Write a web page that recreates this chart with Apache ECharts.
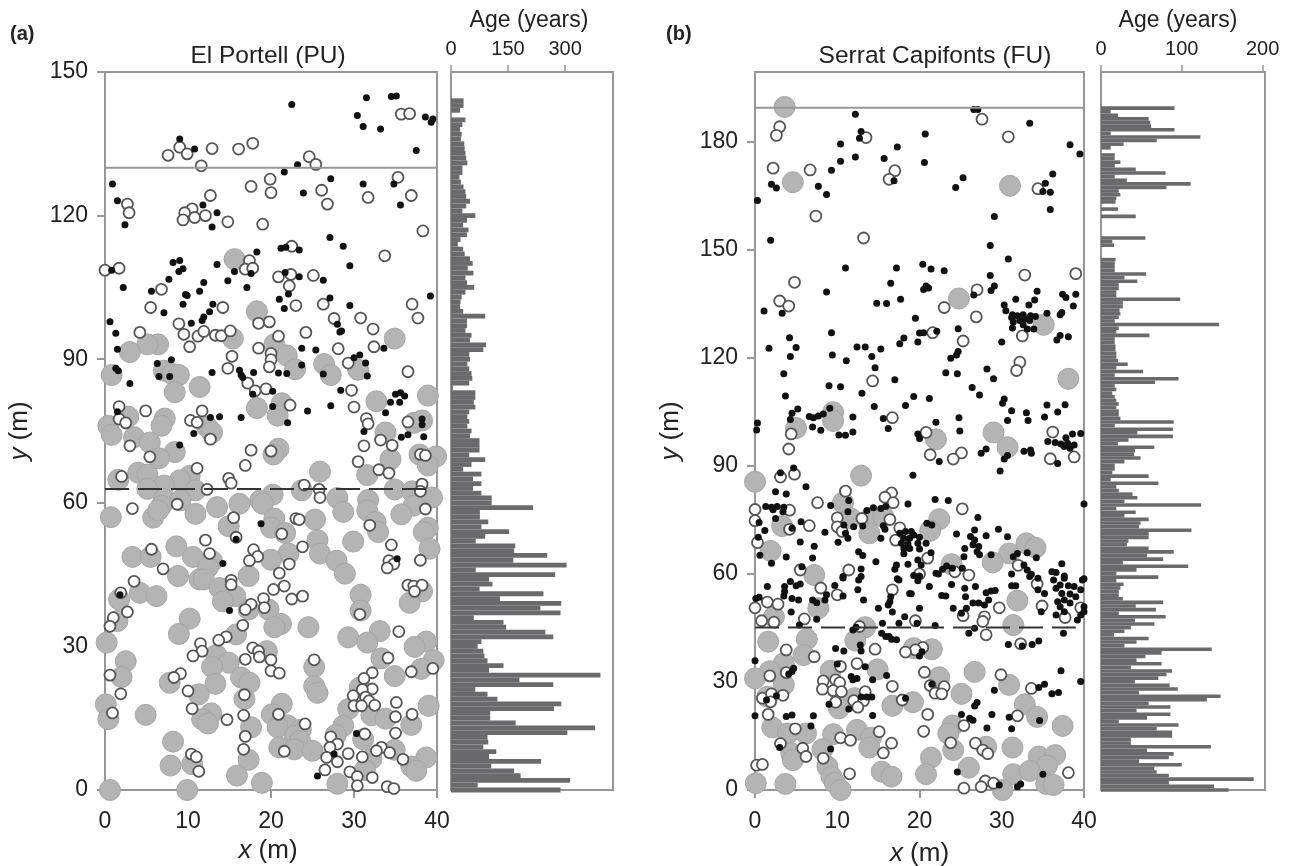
<!DOCTYPE html>
<html><head><meta charset="utf-8">
<script src="https://cdn.jsdelivr.net/npm/echarts@6/dist/echarts.min.js"></script>
<style>html,body{margin:0;padding:0;background:#fff}#c{width:1293px;height:866px}</style></head>
<body><div id="c"></div>
<script>
const bigA=[[15.6,110.9],[18.3,100],[34.9,94.3],[20.4,93.1],[15.4,94.3],[6.4,93.1],[5.1,93.1],[3,91.5],[21.9,90.8],[26.4,89],[22.9,87.9],[27.2,86.7],[30.5,87.8],[0.8,86.7],[7.1,87.6],[8.1,86.9],[8.9,86.7],[11.4,84.2],[8.4,83.1],[38.9,82.4],[32.7,81.2],[21.3,80.8],[18.3,79.8],[20.8,78.2],[7.2,77.6],[6.8,76.1],[2.8,78],[0.4,76.1],[0.8,74.2],[12.3,75.9],[12.9,74.7],[3.5,73.7],[5.4,72.6],[33.8,74.7],[37.2,76.7],[38.2,77.2],[8.4,70.6],[6.5,69.3],[20.9,71.3],[20.3,70.1],[34.4,69.1],[37.9,70.1],[39.9,69.7],[38.9,67.8],[25.9,66.5],[31.6,65.8],[4,66.3],[5.1,65.9],[1.6,64.8],[10.2,65.6],[9,64.7],[7.1,63.6],[5.1,62.9],[10.9,62.6],[23.7,62.6],[20.2,61.7],[34.9,62.8],[37,62.4],[39.4,61.1],[37.2,59.4],[7.1,60.8],[9.1,60.5],[6.8,59.4],[18.7,60.5],[16.2,59.8],[19,59.8],[28,61],[31.7,60.6],[13.5,59.1],[31.6,58.4],[28.7,58.1],[35.7,57.6],[0.7,57],[10.9,57.7],[5.8,56.9],[6.4,58.4],[20.4,56.7],[25.3,56.5],[14.9,55.1],[32.6,56],[20,54.8],[21.7,53.7],[32.9,53.9],[38.9,54.8],[38.4,53.9],[25.6,52.2],[29.9,51.9],[8.6,50.9],[39.1,50.4],[3.3,48.7],[5.5,48.7],[10.6,48.7],[25.9,49.4],[27.9,47.9],[22.1,49.4],[20,48.1],[12.9,47.8],[12.4,46.5],[28.9,45.2],[8.8,44.7],[17.3,44.7],[11.4,44],[11.9,44],[13.8,42.2],[15.7,40.5],[4.2,41.2],[6.2,40.5],[1.7,39.8],[30.8,40.8],[38.2,41.5],[36.7,39.1],[14.2,39.4],[17.3,37.7],[19.7,37.7],[30.8,37.5],[10.2,35.8],[21.2,34.7],[20.4,34],[24.5,34],[8.9,32.6],[1.5,35.3],[15.8,32.5],[33.1,33.2],[29.3,31.9],[31.6,30.8],[38.7,31],[37.3,29.9],[0.2,30.8],[19.5,29],[13.4,28.2],[14.9,26.6],[12.9,25.7],[33.3,27.5],[2.5,26.9],[39.6,27.1],[38.1,25.3],[25.2,25.7],[2,23.6],[34.9,23.8],[16.4,23.5],[17.4,22.4],[13.3,22.2],[7.8,22.4],[25.2,21.7],[25.6,20.3],[30.7,21.4],[11.3,20],[16.8,19],[0.1,17.9],[21.3,18],[39,17.6],[29.3,16.9],[12.8,16],[4.9,15.7],[11.7,14.8],[12.4,13.9],[20.1,15.8],[0.4,14.8],[32.1,15.6],[33.8,14.9],[36.9,13.6],[22,13.5],[17.6,13.1],[28.7,13.4],[20.8,13.1],[23.6,12.6],[22.9,11.3],[27.8,11.5],[8.2,10.1],[31.1,10.6],[23.5,10.3],[21,8.9],[22.8,8.5],[25,8.2],[34.9,8.4],[17.3,6.3],[32.1,6.5],[38.7,6.8],[10.5,5.4],[7.9,5.1],[36.9,4.9],[37.5,4],[31.3,4.2],[15.9,3],[18.9,1.5],[28,1.3],[0.6,0],[9.9,0]];
const openA=[[35.7,141.2],[36.7,141.3],[17.8,135.1],[16.1,133.9],[12.9,134],[9,134.3],[9.9,132.9],[7.6,132.6],[11.6,130.4],[24.6,132.3],[25.4,130.7],[35.3,128],[19.9,127.6],[17.6,126.1],[20,124.8],[26.1,125.3],[31.7,123.8],[36.9,124.2],[26.8,122.4],[12.7,124.2],[2.7,122.4],[2.9,120.6],[10.5,121.4],[9.6,120.6],[9.4,119.1],[10.8,119.6],[12.1,120],[14.8,118.7],[19,118.2],[38.3,116.8],[22.5,113.6],[33.7,111.6],[17.4,110.6],[16.9,108.8],[17.8,109],[0,108.6],[1.7,109],[20.9,107.2],[22.4,107.7],[25.1,107.5],[22.2,105.3],[6.8,104.6],[5.5,100.8],[14.2,100.8],[23,101.2],[26.3,101.5],[37,101.5],[37.7,98.6],[27.6,98.5],[30.8,98.6],[18.5,97.5],[19.8,97.8],[8.9,97.4],[32.3,96.3],[24.2,95.6],[4.2,95.6],[9.5,95.2],[11.2,94.8],[11.9,95.8],[13.3,95],[14,94.9],[15.1,95.9],[20.9,94.8],[10.2,92.6],[18.5,92.3],[28.1,92.2],[32.4,92.6],[20,91.2],[15.3,90.6],[20,89.9],[19.8,88.4],[29.3,89.2],[14.8,88.1],[36.5,87.4],[17.2,85],[18.1,83.4],[19.4,83.8],[29.7,83.5],[22.3,80.4],[1.7,80.1],[4.9,79.2],[11.7,79.2],[30,80],[1.7,77.5],[2.5,76.7],[10.3,77.2],[11.1,76.8],[31.5,77.6],[31.7,76.5],[36.5,76.9],[12.7,73.3],[33.2,73.1],[34.6,72],[31.2,71.9],[3,71.9],[17.6,71],[20,70.8],[5.4,69.6],[38,70.1],[38.6,69.9],[30.5,68.6],[16.9,67.8],[11.1,67.2],[33,66.9],[34.2,66.2],[2,65.5],[14.9,65.1],[15.2,64.1],[24,63.7],[38.2,63.9],[12.3,62.8],[25.8,62.8],[38,62.4],[25.9,61.1],[8.7,59.7],[3.3,58.8],[38.6,58.7],[15.5,56.9],[23,56.7],[23.4,56.5],[31.9,55.3],[21.3,53.5],[15.8,52.8],[12.1,52.2],[34.5,51.2],[23.8,50.8],[5.6,50.3],[17.9,50.2],[12.6,49.4],[18.4,48.8],[34.2,47.9],[38,48],[17.4,47.9],[22.2,47.2],[34.8,47.2],[34,46.4],[7,46.2],[21,45.3],[3.5,43.6],[15.2,43.8],[15.2,42.9],[21.6,42.6],[20.3,41.9],[23.8,40.5],[22.5,39.9],[19.1,40],[1.9,41.2],[36.5,42.8],[37.2,42.6],[38.2,42.8],[37.3,41.5],[17.6,38.8],[16.9,37.7],[19.2,38.1],[2.7,37.2],[1,36],[0.6,34.2],[30.7,36.7],[16.6,34.4],[14.6,32],[13.7,31.3],[35.4,33.1],[11.5,30.6],[17.8,29.7],[18.5,29],[11.7,29],[10.6,28],[18.6,27.8],[34.1,27.6],[16.9,27.3],[20,27.2],[25.2,27.2],[20,24.9],[21,24.4],[36.9,24.7],[39.5,25.4],[0.6,24],[9.1,24.3],[8.3,23.5],[32.2,24.5],[31.2,23.3],[32.2,21.1],[31,21],[10,20.7],[1.9,20.1],[16.8,19.9],[29.9,19.7],[31.4,19.4],[31.8,18.6],[35.1,18.3],[30,17.6],[30.9,17.6],[32.5,17.7],[10.5,17],[0.9,16.1],[16.7,15.6],[20.9,15.8],[35,15.3],[37,15.8],[14.7,14.7],[24.1,13.8],[35,11.9],[31.3,11.7],[16.9,11.2],[27.2,11.1],[28,9.6],[27.1,8.9],[33.3,8.9],[32.7,8.2],[34.3,7.8],[16.7,8.5],[21.6,8.1],[29.3,7.6],[10.4,7.5],[11,6.9],[31,6.9],[26.7,6.8],[35.9,6.4],[28,5.9],[26.5,4.2],[11.3,3.9],[29.5,3.8],[30.4,2.8],[32.2,2.6],[30.4,0.9],[34,0.7],[34.8,0.3]];
const blackA=[[31.5,144.6],[34.5,144.9],[35.1,145],[22.5,143.2],[30.4,140.9],[31.1,138.6],[33.2,138.1],[38.6,140.6],[39.3,139.5],[39.5,140.2],[9,136],[10.8,133.9],[37.5,133.6],[23.2,130.6],[21.6,129.1],[27.2,127.7],[0.9,126.6],[31.1,126.6],[34.8,126.6],[23.9,124.7],[1.5,123.1],[35.6,122.2],[11.8,122.2],[13.5,120.6],[2.4,118.1],[12.9,117.6],[27.1,115.4],[28.7,113.6],[21.2,113.2],[21.8,113.4],[23.4,112.8],[18.3,112.4],[8.2,110.2],[9,110.6],[13.5,109.8],[29.5,109.5],[9.4,108.9],[8.9,108.3],[0.8,108.6],[15.6,108.3],[17.6,107.9],[21.7,108.1],[23.4,107.2],[7.7,106.7],[26.3,106.5],[11.9,106],[14.8,106.4],[2.2,105],[17.1,105],[5.6,104.2],[11.4,104.2],[9.7,103.5],[9.9,103.3],[22.1,103.6],[39.2,103.2],[27.1,102.8],[21,102.5],[9.4,101.5],[13,101.5],[12.6,99.9],[7.1,99.7],[11.9,98.8],[11.7,98.1],[21.6,100.6],[29.5,101.2],[0.6,97.8],[10.4,97.5],[28,97.3],[28.5,95.9],[28.3,95.7],[1.3,95.4],[1.5,92.1],[23.7,92.3],[25.4,91.9],[33.6,92.3],[30.7,90.9],[30,90.3],[8,89.9],[6.3,89.1],[23.7,88.8],[31.4,89.2],[1.3,88.1],[1.6,87.6],[12.9,87.2],[16.2,87.7],[17.9,87.2],[20.9,87.1],[21.9,87],[26.3,86.9],[16.4,86.7],[16.6,86.2],[31.6,86.5],[6.5,86.4],[7.8,86.4],[3,84.9],[28.4,83.5],[17.8,82.7],[20.2,83.3],[35,82.7],[35.6,83],[36.1,82.3],[34.4,81],[35.5,81],[20.2,80.1],[24.4,79.2],[27.2,80.3],[1.5,79],[33.8,78.8],[12.7,77.8],[13.8,78],[16.4,77.8],[38.2,77.5],[38.2,76.3],[22,76.7],[31.2,74.9],[10.7,74.5],[38.4,73.8],[36.5,74.2],[35.7,73.7],[9,72.1],[18.8,55.6],[15.8,52.4],[14.2,47.3],[35.2,48.3],[15,37.5],[1.8,40.8],[30.3,11.8],[25.6,2.9],[27.6,7.5]];
const bigB=[[3.6,189.7],[4.6,168.8],[31,167.8],[24.8,136.5],[35.1,129.2],[38.1,114.2],[9.5,104.9],[9.5,102.5],[5,100.5],[22,97.4],[29,99.3],[30.7,95.2],[12.9,87.3],[0,85.6],[10.7,79.8],[11.6,75.5],[14.1,75.6],[15.6,75.9],[22.4,75.2],[21.3,72],[13.9,71.3],[3.3,73.3],[1.9,66.4],[30.9,65.7],[33,68.5],[34.1,67.3],[28.9,63.2],[23.9,62.7],[7.2,59.7],[31.9,52.6],[7.7,50.5],[2.3,48.1],[13.4,45.2],[31.4,45.8],[1.6,41.2],[6.3,41.9],[12.2,41.5],[19.3,39.4],[21.5,39.1],[5.9,37.5],[3.5,35.2],[1.8,33],[0,31],[9.2,33.1],[14.9,33.5],[26.7,32.8],[22.4,31.3],[30.9,29.2],[3.5,29.2],[12.1,25.5],[25.1,26.7],[1.5,25.9],[19.2,24.4],[16.7,23.4],[32.8,23.8],[10.2,22.7],[34.3,20.3],[24,17.9],[23.5,15.7],[37.4,17.8],[2.1,17.4],[4,15.7],[6.2,15.7],[9.5,15.5],[12.4,16.7],[14.1,14.5],[13.9,11.8],[24.1,11.1],[8.2,11.3],[4.4,10.2],[28.1,12],[31.3,11.8],[4.6,8.3],[21.4,9],[34.5,9.3],[36.5,9.7],[8.8,6.5],[26,6.2],[35.5,6.8],[15.4,5.1],[16.6,3.7],[20.8,4.4],[31.4,4.4],[33.4,5.3],[9.3,3.7],[9.7,2],[10.4,0],[0.1,1.9],[3.7,1.7],[30.1,0],[35.4,1.7],[36.3,1.4]];
const openB=[[27.6,186.3],[3,184.2],[2.6,181.8],[13.5,181.2],[30.8,181.4],[2.2,172.7],[6.7,172.2],[17,172],[16.3,169.6],[34.4,167],[7.4,159.4],[13.2,153.3],[39,143.4],[32.8,143],[4.8,141],[27,138.9],[3,135.8],[4.1,134.4],[23,134],[26.9,131.4],[21.6,127],[25.3,124.7],[32.5,126.1],[32.2,118.8],[31.8,116.5],[14.3,113.6],[16.7,103.4],[20.8,99.3],[36.2,99.4],[4.4,98.9],[4.1,94.7],[21.3,93.1],[25.1,93.6],[24.1,91.9],[35.9,92],[38.8,92.5],[4.8,87.7],[3.1,86.9],[11,83],[16.6,82.5],[15.8,81.3],[16.8,79.8],[7.6,79.8],[0,77.9],[4.2,77.7],[25.2,78.1],[10,75.6],[13,75.4],[16.4,75.1],[0,74.8],[6.6,73.4],[10,73.1],[4.2,72.4],[17.6,72.8],[10.6,71.8],[17.1,69.4],[0.3,68.7],[21,64.4],[32,62.4],[11.4,61.1],[24.3,60.6],[26,59.7],[20,60],[5.5,61.1],[16.7,55.6],[8,56.1],[10,54.2],[34.3,57.2],[1.5,52.2],[2.8,51.6],[0,50.6],[34.9,51.1],[29.7,50.6],[39.6,50.6],[25.3,48.4],[27.9,48.1],[27.7,46.8],[37.7,47.9],[6,47.5],[0.8,47],[2.3,46.6],[19.5,47],[12.7,45.4],[28.1,43.1],[32.3,40.6],[20.4,39.6],[19.5,38.9],[18.3,38.3],[14.6,39.1],[3.8,38.9],[7.2,37],[12.4,35.1],[10.4,34.3],[3.8,32.6],[20.6,32.7],[29.9,32],[1.8,31.7],[8.3,30.3],[9.8,30.6],[10.3,29.8],[16.7,28.8],[21.3,29],[23,28.7],[33.6,28.2],[8.2,28],[9.5,27.6],[10.5,27.3],[13.4,27.3],[3.4,26.3],[0.9,25.5],[2,26.7],[1.9,24.5],[21.9,26.9],[22.7,26.7],[17.9,25],[9.8,24.4],[12,24.8],[13.2,24.8],[12.5,23],[21,21],[31.9,20.6],[1.6,21],[25.4,17.9],[4.9,17],[15.1,16.2],[20.5,16.3],[10.4,14.5],[11.6,13.8],[16.6,13],[23.8,13.1],[26.8,13],[3.1,12.9],[5.8,11.6],[27.7,11.1],[28.3,10.1],[15.6,10.3],[6.2,9.3],[8.3,8.8],[38.1,4.8],[11.5,4.5],[0.2,6.9],[0.9,7.1],[28,2.5],[29,1.9],[27.5,0.9],[25.4,0.5]];
const blackB=[[26.6,189],[27.1,189],[12.2,187.7],[33.4,185.2],[12.9,182.9],[12.7,181],[20.7,182.2],[10.4,179.4],[17.3,178.6],[38.3,179.2],[39.5,176.6],[12.2,175.8],[10.4,174.6],[15.7,175.4],[20.6,174.3],[9.3,172.1],[36.2,171.1],[25.3,170],[16.9,169.2],[2,168.2],[2.6,167.2],[7.7,167.7],[24.4,167.3],[35.3,168.5],[35,166.2],[35.9,166],[8.7,165.4],[0.3,163.7],[35.9,161.2],[29.1,159.3],[1.9,152.7],[28.6,151.2],[30.8,147.5],[11,145],[17.2,145],[20.4,146],[21.4,144.7],[23,144.2],[28.6,142.9],[16.5,140.7],[20.8,140],[20.5,139],[21.1,139.4],[8.7,138.3],[29.1,140],[28.7,138.7],[34.3,138.5],[26.6,137.5],[37.4,137.7],[39,137.7],[37.8,136.8],[17.7,136.3],[31.7,136.3],[34,136.1],[1.1,133],[3.3,132.4],[14.8,135.2],[16,135.1],[30.3,134.7],[30.5,133.1],[33.3,134.7],[38.7,134.4],[37.3,132.6],[37.1,132],[35.5,132.4],[19.5,131],[31.3,132],[31.9,131.7],[32.6,132],[33.5,131.7],[34.1,131.5],[31.2,131.2],[31.4,130],[32.2,130.4],[33.4,130.4],[31.3,128.3],[32.6,129.2],[33.1,128],[33.9,128],[32.9,130.9],[9.3,127],[4.2,125.6],[18.1,125.5],[20,126.9],[20.5,127],[22.1,127.4],[24.7,128.1],[17.6,123.9],[19.8,124.4],[30,124.4],[38.1,125.9],[37.1,126.2],[36.7,125],[1.7,122.7],[5,122.9],[12.4,123],[13.4,123],[15.3,122.5],[24.7,121.8],[24.5,120.8],[23.8,119.9],[4.3,120.4],[9.4,120.8],[14.2,120.4],[11.1,119.2],[14.6,117.3],[3.5,115.6],[23.2,115.9],[24.6,115.6],[28.2,116.9],[29,114.2],[17,113.9],[9,112.3],[10.4,112],[26.4,111.8],[27.3,109.7],[13,110.2],[3.7,109.4],[19.3,109.3],[21.2,108.7],[30.3,108.6],[30.1,107.4],[18.3,106.8],[14.5,106.5],[35.5,106.9],[37.7,107],[5.2,105.8],[4.5,104.6],[9.1,106],[31.2,105.3],[33,104.8],[36.8,105],[4.3,102.9],[6.6,103.7],[7.1,103.4],[7.7,103.9],[8.3,104.4],[11.9,103.6],[15.6,103.2],[24.8,103.4],[35.2,103.6],[30.7,102.6],[33.2,102.6],[22,102.1],[0.3,101.9],[0.2,100],[7,100.8],[8,99.9],[16.2,100.4],[24.9,99.7],[10.2,98.6],[11,98.5],[11.9,99.4],[19.8,98.9],[20,97.6],[38.6,98.9],[39.6,99],[37.8,97.8],[35.6,96.8],[36.5,96.5],[37.2,96.1],[38,96.3],[38.8,95.8],[37.6,95.4],[38.3,94.9],[28.1,94.7],[27.5,93.5],[30.7,92.9],[30.3,91.9],[32.7,94.1],[33.5,94.4],[33.6,93.5],[22.4,91.2],[36.8,90.7],[4.7,89.4],[29.8,88.6],[3.1,88.1],[19.2,87.4],[6.2,84.2],[2.5,82.8],[3.8,82.2],[11.4,80.4],[21.9,80.7],[23.5,80.4],[18.6,79.4],[40,79.4],[9.2,79],[1.3,78.7],[2,78.5],[2.7,78.7],[3.5,78.5],[2.2,77.8],[3.4,77.3],[14.4,78.4],[15.3,78.2],[15.9,78.7],[11.3,77.3],[13.6,77.6],[27.1,75.7],[2.5,75.4],[5.6,74.5],[0.5,74.3],[10.8,73.6],[12,73.1],[13.1,73.3],[15.6,73.4],[15.8,72.4],[20.9,74.1],[21.5,73.6],[29.6,72.4],[1.2,72.1],[8.5,71.6],[4.5,72.7],[26.7,72.2],[24.5,71.1],[28.1,70.6],[11,71.3],[11.3,69.9],[15.3,69.9],[30.7,70.3],[26.2,70.4],[26.7,69.4],[0.4,70.2],[17.6,71.3],[18.3,71.8],[19,71.8],[19.3,70.8],[18.1,69.9],[18.8,69.9],[20,70.2],[17.8,68.5],[18.6,68.3],[19.8,68.5],[20.8,68.5],[18.1,67.1],[18.8,67.1],[20,66.9],[18.1,65.6],[21.4,65.9],[5.5,68.9],[10.1,68.8],[7.2,67.7],[26.5,68.1],[27.2,67.6],[25.5,67.1],[27,66.2],[27.3,65.3],[12.6,66.2],[13.1,65.1],[0.6,65.2],[3.8,64.7],[7,64.4],[25.4,64.8],[28.7,65.3],[33.1,65.9],[34.2,64.5],[31.9,65.7],[31.4,64.8],[19.8,63.9],[20.2,62.5],[2,63],[14.7,63.4],[18.6,62.7],[17.2,62.5],[17,61.3],[37.3,62.8],[32.7,62.5],[33.1,61.1],[23.3,62.2],[24,61.6],[22.8,61.3],[25.2,61.6],[22,60.2],[12.9,61.4],[5.7,62],[31.2,60],[36.1,60.6],[36.6,60.4],[33.6,59.9],[34.4,58.8],[37.6,59.4],[12.9,59.3],[10.7,59.3],[19.3,59.6],[40,58.7],[17.3,58.7],[1.5,56.5],[4.3,57.9],[5.5,57.2],[3.6,56.5],[5,56.7],[3.6,55.1],[3.5,53.9],[0.1,53.2],[0.5,53.5],[4.5,53.2],[5.3,52.8],[7,52.8],[8.7,54.2],[8.5,52.8],[7.5,52],[9.7,56.8],[10.7,53.9],[10.7,58.9],[12.5,55.6],[13.2,52.8],[12.6,58.3],[17.5,58.3],[20,59.4],[19.8,58.1],[18.8,54.6],[19,54.5],[21.2,56.5],[22.3,60],[23.9,57.1],[22.7,54],[23.2,53.9],[25.5,56],[26.8,56.5],[25.6,53.7],[28.1,54.8],[28.7,55.3],[29.2,55.4],[28.4,52.8],[26.5,51.9],[27.2,51.9],[27.9,51.4],[25.7,50.5],[25.1,49.1],[24.1,50.5],[20,50.5],[15,50.5],[16.5,53.7],[16.4,52.3],[16.2,51.4],[16.7,49.4],[18.2,48.1],[4.4,49.4],[7.5,47.4],[15.5,46.3],[17.5,46.3],[19.7,46.3],[21.9,45.7],[5.4,45.8],[11.9,44.4],[12.3,45.2],[26.7,44.9],[26,43.5],[37.6,58.8],[36.3,58.3],[37.1,56.9],[38.1,56.7],[38.8,56.5],[36.6,56],[37.3,54.6],[38.3,54.4],[39.6,55.6],[39,53.7],[37.6,52.8],[36.8,52.3],[38.3,51.9],[37.1,50.9],[36.6,48.6],[37.6,49.5],[39.2,47.2],[39.6,48.6],[40,50.9],[40,49.5],[39.8,58.3],[35.2,54.6],[34.4,55.6],[33.4,59.3],[31.2,56.7],[31.7,56.7],[34.8,49.5],[37.5,43.5],[15.4,43.5],[15.9,42.6],[16.6,41.9],[17.2,41.7],[16.3,42.6],[12.8,40.3],[12.9,38.6],[9.8,39.3],[10.8,38.6],[20,37.2],[20.3,38.4],[30.8,40.4],[32.5,40],[33.7,40.4],[34.5,41.4],[0,35.9],[10,35],[13.4,34.2],[4.7,33.8],[4.5,32.9],[4.1,32.2],[37.2,33.1],[16,31.8],[11.7,31.5],[12.4,31],[14.3,30.6],[39.6,30.1],[11.9,30.6],[21.5,29.4],[35.2,29.4],[34.5,28.5],[29.1,27.7],[36.9,27.1],[36.1,26.7],[1.4,25],[2.6,26.2],[12.9,25.8],[13.6,25.8],[14.2,25.8],[18.3,25.5],[26.7,23.3],[27,24.3],[9,23.8],[11.4,22.5],[0,20.6],[3.8,20.4],[4.5,20.8],[7.1,20.6],[14.3,20.7],[25.1,21],[26.1,19.9],[26.5,19.4],[28.8,21],[30.9,20.2],[34.6,19.3],[6.8,17.8],[28.2,17.2],[31.2,17],[3,11.8],[9.2,11.4],[24.6,5],[35,4.4],[29.7,1.4],[31.9,0.9],[32.3,1.7]];
// Age per metre of y, from y = 0 upward
const ageA=[288,70,313,183,166,106,237,100,119,85,98,96,306,379,170,103,103,271,290,122,96,64,269,180,393,100,138,96,88,85,70,80,269,248,145,138,60,288,235,290,129,243,75,109,100,274,65,304,164,253,166,169,65,90,153,80,98,76,76,216,107,107,80,58,80,58,80,32,54,90,48,75,75,75,50,54,43,48,43,48,64,60,64,64,5,48,56,54,48,43,50,48,85,92,50,54,38,42,42,90,32,24,25,28,38,61,42,38,59,44,57,50,36,32,18,25,42,46,32,42,64,30,40,50,40,38,33,26,22,30,30,43,40,38,36,35,26,28,24,30,38,0,24,33,33,0,0,0,0,0,0];
const ageB=[158,140,84,189,84,69,66,100,47,84,90,57,136,37,37,88,88,69,96,22,57,86,44,86,59,131,148,47,95,85,42,71,81,88,37,75,44,55,75,137,29,44,59,16,29,37,66,42,80,22,68,43,77,27,22,22,24,28,19,71,19,44,108,27,77,57,90,59,32,34,59,59,112,47,49,59,29,43,19,124,29,45,39,22,19,71,12,59,14,17,17,29,49,41,42,66,21,34,89,45,89,17,90,24,22,22,19,22,19,17,14,19,17,67,96,17,52,19,33,21,19,19,18,18,17,17,60,19,22,146,17,22,24,23,27,27,98,19,19,22,22,45,29,56,17,17,17,18,0,0,0,16,14,55,0,0,0,0,0,43,0,21,0,18,19,24,22,81,111,32,17,80,43,17,24,17,17,0,12,28,69,123,12,91,62,61,59,21,12,91,0,0,0,0,0,0,0,0,0,0];
const yCatsA=ageA.map((_,i)=>String(i));
const yCatsB=ageB.map((_,i)=>String(i));
const xTicks=[0,10,20,30,40];
const yTicksA=[0,30,60,90,120,150];
const yTicksB=[0,30,60,90,120,150,180];
const ageTicksA=[0,150,300];
const ageTicksB=[0,100,200];
const solidA=[[0,130],[40,130]], dashA=[[0,62.9],[39,62.9]];
const solidB=[[0,189.5],[40,189.5]], dashB=[[0,45.1],[39,45.1]];

const F='"Liberation Sans",Arial,sans-serif', GR='#979797', TX='#222';
const frame={show:true,borderColor:GR,borderWidth:2,backgroundColor:'transparent',outerBoundsMode:'none'};
const grid=[
 {left:105,top:72,width:332,height:718,...frame},
 {left:451,top:72,width:162,height:718,...frame},
 {left:755,top:72,width:329,height:718,...frame},
 {left:1101,top:72,width:164,height:718,...frame}];
const axLine={show:true,lineStyle:{color:GR,width:2}};
const tick={show:true,length:8,lineStyle:{color:GR,width:2}};
const nameStyle={fontFamily:F,fontSize:26,color:TX,rich:{i:{fontFamily:F,fontSize:26,fontStyle:'italic',color:TX}}};
const xAx=(i)=>({type:'value',gridIndex:i,min:0,max:40,interval:10,position:'bottom',axisLine:axLine,axisTick:tick,splitLine:{show:false},
  axisLabel:{fontFamily:F,fontSize:23,color:TX,margin:20,customValues:xTicks},
  name:'{i|x} (m)',nameLocation:'middle',nameGap:i===0?48:51,
  nameTextStyle:{...nameStyle,padding:i===0?[0,6,0,0]:0}});
const yAx=(i,max,t)=>({type:'value',gridIndex:i,min:0,max,axisLine:axLine,axisTick:{...tick,customValues:t},splitLine:{show:false},
  axisLabel:{fontFamily:F,fontSize:23,color:TX,margin:17,padding:[3,0,0,0],customValues:t},
  name:'{i|y} (m)',nameLocation:'middle',nameGap:i===0?72:71,nameRotate:90,nameTextStyle:nameStyle});
const ageX=(i,max,t)=>({type:'value',gridIndex:i,min:0,max,position:'top',axisLine:axLine,axisTick:{show:true,length:7,lineStyle:{color:GR,width:1.5},customValues:t},splitLine:{show:false},
  axisLabel:{fontFamily:F,fontSize:20,color:TX,margin:13,customValues:t}});
const ageY=(i,c)=>({type:'category',gridIndex:i,data:c,boundaryGap:false,axisLine:axLine,axisTick:{show:false},axisLabel:{show:false}});
const pts=(x,y,data,kind)=>{
 const st={big:{s:21,c:'#b4b4b4',b:'#a6a6a6',w:1,z:2},open:{s:11,c:'#fff',b:'#555',w:1.8,z:3},black:{s:7,c:'#111',b:'#111',w:0,z:4}}[kind];
 return {type:'scatter',xAxisIndex:x,yAxisIndex:y,data,symbolSize:st.s,clip:false,z:st.z,silent:true,
   itemStyle:{color:st.c,borderColor:st.b,borderWidth:st.w,opacity:1}};
};
const ln=(x,y,data,c,dash)=>({type:'line',xAxisIndex:x,yAxisIndex:y,data,symbol:'none',z:5,silent:true,
   lineStyle:{color:c,width:2,type:dash?[24,9]:'solid'}});
const bar=(x,y,data)=>({type:'bar',xAxisIndex:x,yAxisIndex:y,data,barWidth:'100%',silent:true,clip:false,itemStyle:{color:'#6a6a6d'}});

const option={animation:false,backgroundColor:'#fff',
 title:[
  {text:'(a)',left:5,top:19,textStyle:{fontFamily:F,fontSize:20,fontWeight:'bold',color:'#222'}},
  {text:'(b)',left:661,top:19,textStyle:{fontFamily:F,fontSize:20,fontWeight:'bold',color:'#222'}},
  {text:'El Portell (PU)',left:263,top:39,textAlign:'center',textStyle:{fontFamily:F,fontSize:24.5,fontWeight:'normal',color:TX}},
  {text:'Serrat Capifonts (FU)',left:930,top:39,textAlign:'center',textStyle:{fontFamily:F,fontSize:24.5,fontWeight:'normal',color:TX}},
  {text:'Age (years)',left:524,top:4,textAlign:'center',textStyle:{fontFamily:F,fontSize:23,fontWeight:'normal',color:TX}},
  {text:'Age (years)',left:1173,top:4,textAlign:'center',textStyle:{fontFamily:F,fontSize:23,fontWeight:'normal',color:TX}}],
 grid,
 xAxis:[xAx(0),ageX(1,426,ageTicksA),xAx(2),ageX(3,203,ageTicksB)],
 yAxis:[yAx(0,150,yTicksA),ageY(1,yCatsA),yAx(2,199.4,yTicksB),ageY(3,yCatsB)],
 series:[
  pts(0,0,bigA,'big'),pts(0,0,openA,'open'),pts(0,0,blackA,'black'),
  ln(0,0,solidA,GR,false),ln(0,0,dashA,'#333',true),
  bar(1,1,ageA),
  pts(2,2,bigB,'big'),pts(2,2,openB,'open'),pts(2,2,blackB,'black'),
  ln(2,2,solidB,GR,false),ln(2,2,dashB,'#333',true),
  bar(3,3,ageB)]
};
echarts.init(document.getElementById('c'),null,{renderer:'canvas'}).setOption(option);
</script></body></html>
